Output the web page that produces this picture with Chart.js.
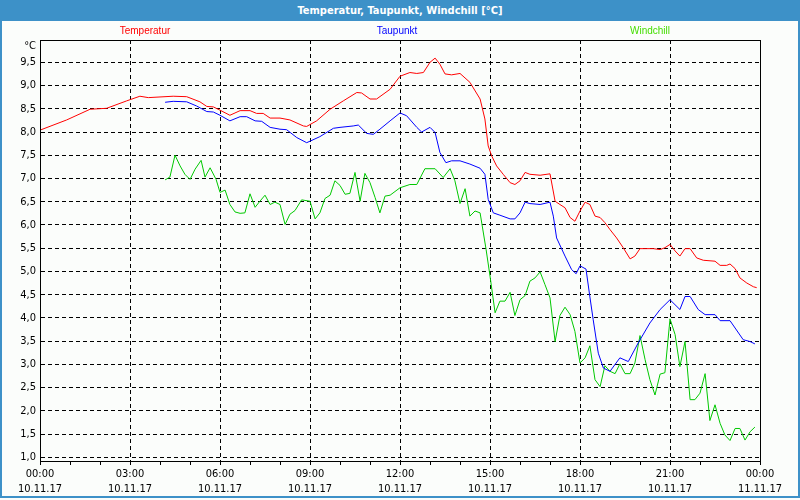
<!DOCTYPE html>
<html>
<head>
<meta charset="utf-8">
<script src="https://cdn.jsdelivr.net/npm/chart.js@4/dist/chart.umd.min.js"></script>
<style>
  html, body { margin: 0; padding: 0; background: #fbfdfb; }
  #wrap { position: relative; width: 800px; height: 500px; overflow: hidden; background: #fbfdfb; }
  #frame { position: absolute; left: 0; top: 0; width: 796px; height: 496px; border: 2px solid #3d91c8; border-top: none; }
  #titlebar { position: absolute; left: 0; top: 0; width: 800px; height: 21px; background: #3d91c8; color: #fff;
    font: bold 11px "DejaVu Sans Condensed", "Liberation Sans", sans-serif; line-height: 21px; text-align: center; }
  .leg { position: absolute; top: 25px; font: 10px "Liberation Sans", sans-serif; transform: translateX(-50%); white-space: nowrap; }
  canvas { position: absolute; left: 0; top: 0; }
</style>
</head>
<body>
<div id="wrap">
  <canvas id="c" width="800" height="500"></canvas>
  <div id="frame"></div>
  <div id="titlebar">Temperatur, Taupunkt, Windchill [°C]</div>
  <div class="leg" style="left:145px;color:#ff0000">Temperatur</div>
  <div class="leg" style="left:397px;color:#0000ff">Taupunkt</div>
  <div class="leg" style="left:650px;color:#44dd00">Windchill</div>
</div>
<script>
// hours since 10.11.17 00:00
const tempTimes = [0,0.89,1.67,2.22,2.89,3.33,3.61,4.44,4.89,5.33,5.56,5.78,6,6.33,6.67,7,7.22,7.44,7.67,8,8.33,8.78,8.89,9.22,9.67,10.11,10.56,10.72,11,11.22,11.67,12,12.33,12.56,12.78,13,13.17,13.33,13.5,13.72,14,14.33,14.67,14.83,14.94,15.06,15.22,15.44,15.67,15.83,16,16.17,16.33,16.67,17,17.17,17.33,17.5,17.67,17.83,18,18.17,18.33,18.5,18.67,18.83,19,19.22,19.44,19.67,19.83,20,20.44,20.67,20.83,21,21.17,21.33,21.5,21.67,21.89,22.11,22.5,22.67,22.89,23,23.17,23.33,23.56,23.78,23.89];
const tempValues = [8.04,8.26,8.49,8.51,8.67,8.77,8.74,8.77,8.76,8.65,8.55,8.54,8.47,8.36,8.46,8.46,8.40,8.40,8.30,8.30,8.26,8.13,8.12,8.24,8.49,8.67,8.85,8.84,8.71,8.71,8.92,9.20,9.28,9.26,9.28,9.50,9.59,9.46,9.25,9.23,9.26,9.07,8.71,8.28,7.70,7.48,7.27,7.09,6.91,6.87,6.95,7.13,7.09,7.07,7.10,6.51,6.44,6.37,6.16,6.08,6.30,6.49,6.44,6.19,6.16,6.05,5.90,5.72,5.51,5.27,5.33,5.49,5.49,5.47,5.51,5.58,5.44,5.33,5.49,5.49,5.29,5.24,5.22,5.13,5.13,5.16,5.06,4.86,4.75,4.67,4.65];

const dewTimes = [4.17,4.44,4.89,5.22,5.56,5.78,6,6.33,6.67,6.89,7.17,7.39,7.67,8,8.22,8.56,8.89,9.33,9.78,10,10.44,10.61,10.89,11.11,11.33,11.67,12,12.22,12.56,12.72,13,13.17,13.33,13.53,13.72,14,14.33,14.67,14.83,14.94,15.11,15.33,15.67,15.83,16,16.17,16.33,16.67,17,17.11,17.22,17.5,17.72,17.87,18,18.2,18.33,18.44,18.61,18.78,19,19.33,19.61,19.94,20.33,20.67,21,21.33,21.5,21.67,21.94,22.17,22.5,22.67,23,23.44,23.67,23.83];
const dewValues = [8.64,8.66,8.65,8.56,8.44,8.43,8.36,8.24,8.33,8.33,8.24,8.23,8.10,8.06,8.05,7.88,7.77,7.90,8.08,8.10,8.13,8.15,7.97,7.95,8.06,8.24,8.41,8.35,8.10,8.00,8.10,7.99,7.56,7.34,7.38,7.38,7.31,7.22,7.09,6.55,6.26,6.21,6.13,6.13,6.26,6.49,6.46,6.44,6.49,6.19,5.72,5.33,5.04,4.95,5.12,5.05,4.45,3.96,3.24,2.92,2.85,3.14,3.06,3.46,3.89,4.18,4.39,4.18,4.46,4.46,4.18,4.07,4.07,3.94,3.94,3.53,3.49,3.44];

const chillTimes = [4.17,4.33,4.5,4.67,4.83,5,5.17,5.37,5.5,5.67,5.87,6,6.17,6.33,6.5,6.67,6.83,7,7.17,7.33,7.5,7.67,7.83,8,8.17,8.33,8.5,8.72,9,9.17,9.33,9.5,9.67,9.83,10,10.17,10.33,10.5,10.67,10.83,11,11.17,11.33,11.5,11.67,12,12.33,12.56,12.83,13.17,13.44,13.67,13.83,14,14.17,14.33,14.5,14.67,14.87,15,15.17,15.33,15.5,15.67,15.83,16,16.17,16.33,16.5,16.67,16.83,17,17.17,17.33,17.5,17.67,17.83,18,18.17,18.33,18.5,18.67,18.83,19,19.17,19.33,19.5,19.67,19.83,20,20.17,20.33,20.5,20.67,20.83,21,21.17,21.33,21.5,21.67,21.83,22,22.17,22.33,22.5,22.67,22.83,23,23.17,23.33,23.5,23.67,23.83];
const chillValues = [6.97,7.03,7.50,7.27,7.09,6.98,7.20,7.39,7.03,7.23,6.98,6.70,6.75,6.44,6.28,6.25,6.26,6.67,6.38,6.51,6.64,6.44,6.49,6.44,6.01,6.23,6.31,6.54,6.51,6.13,6.26,6.57,6.64,6.95,6.85,6.66,6.68,7.13,6.51,7.11,6.91,6.59,6.26,6.62,6.64,6.80,6.87,6.87,7.21,7.21,7.02,7.21,6.95,6.46,6.78,6.19,6.30,6.26,5.47,4.90,4.11,4.36,4.36,4.55,4.05,4.39,4.48,4.79,4.86,4.99,4.72,4.43,3.49,4.05,4.23,4.07,3.71,3.03,3.14,3.40,2.67,2.52,2.97,2.85,2.80,3.01,2.80,2.80,3.03,3.62,3.10,2.67,2.34,2.79,2.82,3.98,3.64,2.95,3.49,2.24,2.24,2.38,2.80,1.79,2.13,1.73,1.48,1.36,1.62,1.62,1.37,1.55,1.65];

const yTickValues = [1.0,1.5,2.0,2.5,3.0,3.5,4.0,4.5,5.0,5.5,6.0,6.5,7.0,7.5,8.0,8.5,9.0,9.5];
const yUnitValue = 9.85;
const yUnitLabel = '°C';
const xTimeLabels = {0:'00:00',3:'03:00',6:'06:00',9:'09:00',12:'12:00',15:'15:00',18:'18:00',21:'21:00',24:'00:00'};
const xDateLabels = {0:'10.11.17',3:'10.11.17',6:'10.11.17',9:'10.11.17',12:'10.11.17',15:'10.11.17',18:'10.11.17',21:'10.11.17',24:'11.11.17'};

function pts(ts, vs) { return ts.map((t, i) => ({x: t, y: vs[i]})); }

const boxPlugin = {
  id: 'box',
  afterDatasetsDraw(chart) {
    const a = chart.chartArea, ctx = chart.ctx;
    ctx.save();
    ctx.strokeStyle = '#000';
    ctx.lineWidth = 1;
    ctx.setLineDash([]);
    ctx.strokeRect(Math.round(a.left) + 0.5, Math.round(a.top) + 0.5, Math.round(a.right - a.left), Math.round(a.bottom - a.top));
    ctx.restore();
  }
};

const tickFont = {family: '"DejaVu Sans Condensed", "Liberation Sans", sans-serif', size: 11};

new Chart(document.getElementById('c'), {
  type: 'line',
  data: {
    datasets: [
      {label: 'Temperatur', data: pts(tempTimes, tempValues), borderColor: '#ff0000'},
      {label: 'Taupunkt', data: pts(dewTimes, dewValues), borderColor: '#0000ff'},
      {label: 'Windchill', data: pts(chillTimes, chillValues), borderColor: '#00c800'}
    ]
  },
  options: {
    responsive: false,
    animation: false,
    events: [],
    layout: {padding: {top: 40, right: 40, left: 0, bottom: 0}},
    elements: {
      line: {borderWidth: 1, tension: 0, fill: false},
      point: {radius: 0}
    },
    plugins: {legend: {display: false}, title: {display: false}, tooltip: {enabled: false}},
    scales: {
      x: {
        type: 'linear', min: 0, max: 24,
        afterBuildTicks: s => { const t = []; for (let h = 0; h <= 24; h++) t.push({value: h}); s.ticks = t; },
        afterFit: s => { s.height = 39; },
        ticks: {
          autoSkip: false, maxRotation: 0, padding: 1, color: '#000',
          font: Object.assign({lineHeight: 1.4}, tickFont),
          callback: v => xTimeLabels[v] !== undefined ? [xTimeLabels[v], xDateLabels[v]] : ''
        },
        grid: {
          drawTicks: true, tickLength: 4, tickColor: '#000', tickWidth: 1,
          color: c => (c.tick && c.tick.value % 3 === 0 && c.tick.value > 0 && c.tick.value < 24) ? '#000' : 'rgba(0,0,0,0)'
        },
        border: {display: true, color: '#000', width: 1, dash: [4, 3]}
      },
      y: {
        type: 'linear', min: 0.92, max: 9.98,
        afterBuildTicks: s => { s.ticks = yTickValues.map(v => ({value: v})).concat([{value: yUnitValue}]); },
        afterFit: s => { s.width = 40; },
        ticks: {
          autoSkip: false, padding: 4, color: '#000', font: tickFont,
          callback: v => v === yUnitValue ? yUnitLabel : v.toFixed(1).replace('.', ',')
        },
        grid: {
          drawTicks: false,
          color: c => (c.tick && c.tick.value === yUnitValue) ? 'rgba(0,0,0,0)' : '#000'
        },
        border: {display: true, color: '#000', width: 1, dash: [4, 3]}
      }
    }
  },
  plugins: [boxPlugin]
});
</script>
</body>
</html>
